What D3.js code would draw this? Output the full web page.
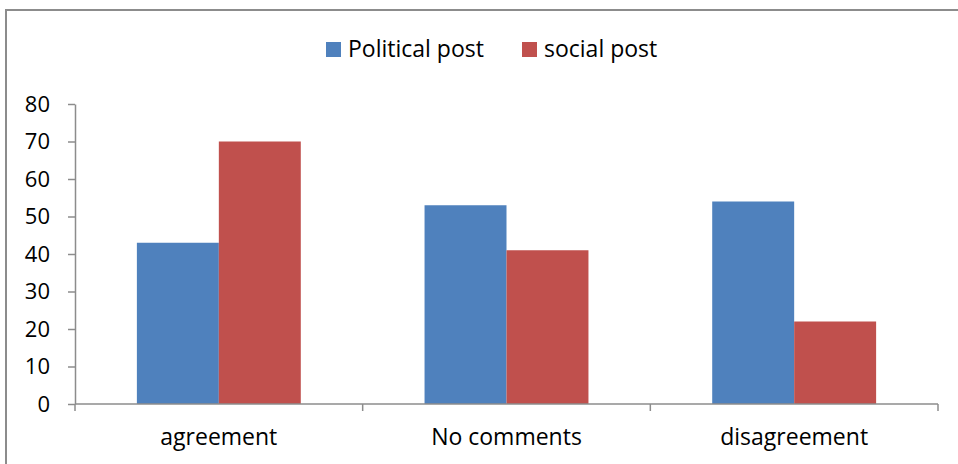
<!DOCTYPE html>
<html>
<head>
<meta charset="utf-8">
<script src="https://cdn.jsdelivr.net/npm/d3@7"></script>
<style>
  html, body { margin: 0; padding: 0; background: #fff; }
  svg { display: block; font-family: "Open Sans", Lato, sans-serif; }
</style>
</head>
<body>
<svg id="chart" width="958" height="464"></svg>
<script>
const categories = ["agreement", "No comments", "disagreement"];
const seriesNames = ["Political post", "social post"];
const politicalValues = [43, 53, 54];
const socialValues = [70, 41, 22];
const yTicks = [0, 10, 20, 30, 40, 50, 60, 70, 80];
const colors = ["#4F81BD", "#C0504D"];

const svg = d3.select("#chart");
const W = 958, H = 464;
const FONT = "'Open Sans', Lato, sans-serif";
const FS = 23;

// outer frame (right and bottom edges fall outside the view)
svg.append("rect")
  .attr("x", 6).attr("y", 10)
  .attr("width", W + 10).attr("height", H + 10)
  .attr("fill", "#fff")
  .attr("stroke", "#8c8c8c").attr("stroke-width", 2);

const plot = { left: 75, right: 938, top: 104, bottom: 404 };

const x0 = d3.scaleBand().domain(categories)
  .range([plot.left, plot.right]).paddingInner(0).paddingOuter(0);
const x1 = d3.scaleBand().domain(seriesNames)
  .range([0, x0.bandwidth()]).paddingInner(0).paddingOuter(0.755);
const y = d3.scaleLinear().domain([0, 80]).range([plot.bottom, plot.top]);

const rows = categories.map((c, i) => ({
  category: c,
  values: [
    { series: seriesNames[0], value: politicalValues[i] },
    { series: seriesNames[1], value: socialValues[i] }
  ]
}));

// bars
const groups = svg.append("g").selectAll("g").data(rows).join("g")
  .attr("transform", d => `translate(${x0(d.category)},0)`);
groups.selectAll("rect").data(d => d.values).join("rect")
  .attr("x", d => x1(d.series))
  .attr("y", d => y(d.value))
  .attr("width", x1.bandwidth())
  .attr("height", d => y(0) - y(d.value))
  .attr("fill", (d, i) => colors[i]);

// y axis
const yAxis = d3.axisLeft(y).tickValues(yTicks).tickSize(7).tickPadding(18).tickSizeOuter(0);
const gy = svg.append("g").attr("transform", `translate(${plot.left},0)`).call(yAxis);
gy.select(".domain").attr("stroke", "#8c8c8c").attr("stroke-width", 1.5);
gy.selectAll(".tick line").attr("stroke", "#8c8c8c").attr("stroke-width", 1.5);
gy.selectAll(".tick text").attr("font-size", 22).attr("fill", "#000")
  .attr("font-family", FONT);

// x axis: tick marks at category boundaries
const xAxisG = svg.append("g");
xAxisG.append("line")
  .attr("x1", plot.left).attr("x2", plot.right)
  .attr("y1", y(0)).attr("y2", y(0))
  .attr("stroke", "#8c8c8c").attr("stroke-width", 1.5);
const boundaries = categories.map(c => x0(c)).concat([x0(categories[categories.length - 1]) + x0.bandwidth()]);
xAxisG.selectAll("line.b").data(boundaries).join("line")
  .attr("class", "b")
  .attr("x1", d => d).attr("x2", d => d)
  .attr("y1", y(0)).attr("y2", y(0) + 7)
  .attr("stroke", "#8c8c8c").attr("stroke-width", 1.5);
xAxisG.selectAll("text").data(categories).join("text")
  .attr("x", d => x0(d) + x0.bandwidth() / 2)
  .attr("y", 445)
  .attr("text-anchor", "middle")
  .attr("font-size", FS)
  .attr("fill", "#000")
  .text(d => d);

// legend
const legend = svg.append("g");
const legendX = [326, 522];
seriesNames.forEach((s, i) => {
  legend.append("rect")
    .attr("x", legendX[i]).attr("y", 42)
    .attr("width", 15).attr("height", 15)
    .attr("fill", colors[i]);
  legend.append("text")
    .attr("x", legendX[i] + 22).attr("y", 57)
    .attr("font-size", FS).attr("fill", "#000")
    .text(s);
});
</script>
</body>
</html>
